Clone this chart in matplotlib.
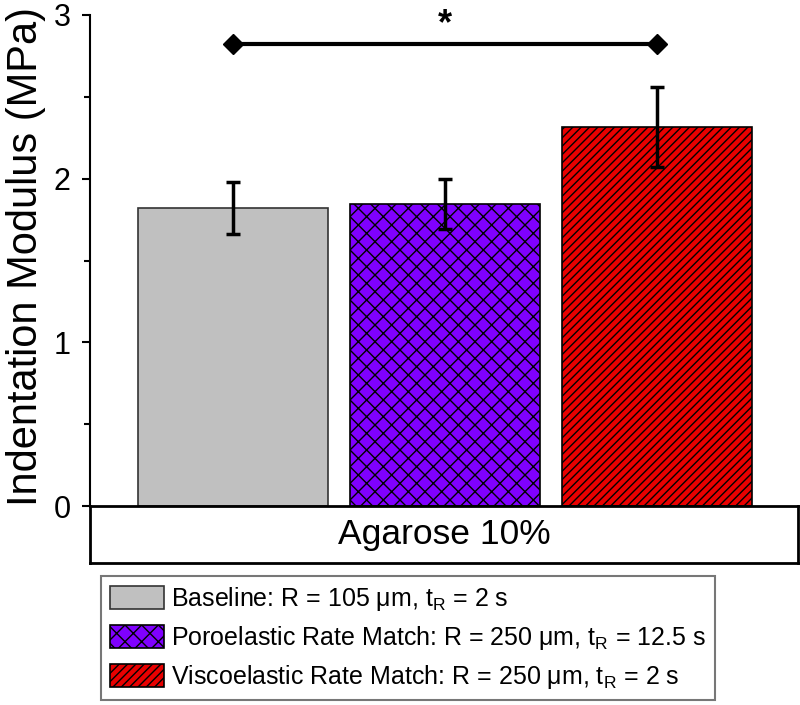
import matplotlib.pyplot as plt
from matplotlib.patches import Patch
from matplotlib.ticker import MultipleLocator

plt.rcParams['font.family'] = ['Liberation Sans', 'DejaVu Sans']
plt.rcParams['hatch.linewidth'] = 1.0

# datos
groups = ["Baseline", "Poroelastic", "Viscoelastic"]
means = [1.82, 1.845, 2.315]
errs = [0.16, 0.155, 0.245]
labels = ["Baseline: R = 105 μm, t$_\\mathregular{R}$ = 2 s",
          "Poroelastic Rate Match: R = 250 μm, t$_\\mathregular{R}$ = 12.5 s",
          "Viscoelastic Rate Match: R = 250 μm, t$_\\mathregular{R}$ = 2 s"]
colors = ["#C0C0C0", "#8000FF", "#E80000"]
hatches = [None, "xx", "////"]
edges = ["#333333", "black", "black"]
sig_y = 2.82
category = "Agarose 10%"

W, H = 800, 705
fig = plt.figure(figsize=(W / 100, H / 100), dpi=100)
ax = fig.add_axes([90 / W, 1 - 506 / H, 708 / W, 491 / H])

x = [1, 2, 3]
for xi, m, c, h, ec in zip(x, means, colors, hatches, edges):
    ax.bar(xi, m, width=0.9, color=c, hatch=h, edgecolor=ec, linewidth=1.2, zorder=2)
ax.errorbar(x, means, yerr=errs, fmt="none", ecolor="black", elinewidth=2.5,
            capsize=5, capthick=2.5, zorder=3)

# barra de significancia
ax.plot([x[0], x[2]], [sig_y, sig_y], color="black", linewidth=3,
        marker="D", markersize=10, zorder=4)
ax.text(x[1], sig_y + 0.12, "*", ha="center", va="center", fontsize=26,
        fontweight="bold")

ax.set_xlim(0.325, 3.665)
ax.set_ylim(0, 3)
ax.set_xticks([])
ax.yaxis.set_major_locator(MultipleLocator(1))
ax.yaxis.set_minor_locator(MultipleLocator(0.5))
ax.tick_params(axis="y", which="major", length=6, width=1.5, labelsize=22, pad=8)
ax.tick_params(axis="y", which="minor", length=4, width=1.5)
for s in ("top", "right", "bottom"):
    ax.spines[s].set_visible(False)
ax.spines["left"].set_linewidth(1.5)
ax.spines["left"].set_zorder(5)

fig.text(26 / W, 1 - 256 / H, "Indentation Modulus (MPa)", rotation=90,
         ha="center", va="center", fontsize=30)

# caja de la categoria
ax_cat = fig.add_axes([90 / W, 1 - 563 / H, 708 / W, 57 / H])
ax_cat.set_xticks([])
ax_cat.set_yticks([])
for s in ax_cat.spines.values():
    s.set_linewidth(2)
ax_cat.text(0.5, 0.5, category, ha="center", va="center", fontsize=25.5,
            transform=ax_cat.transAxes)

handles = [Patch(facecolor=c, hatch=h, edgecolor=ec, linewidth=1.2)
           for c, h, ec in zip(colors, hatches, edges)]
leg = fig.legend(handles, labels, loc="upper left",
                 bbox_to_anchor=(101 / W, 1 - 576 / H), fontsize=18,
                 handlelength=2.15, handleheight=1.05, handletextpad=0.3,
                 labelspacing=0.45, borderpad=0.35, borderaxespad=0,
                 fancybox=False, edgecolor="#777777", framealpha=1)
leg.get_frame().set_linewidth(1.5)

fig.savefig("out.png", dpi=100)
